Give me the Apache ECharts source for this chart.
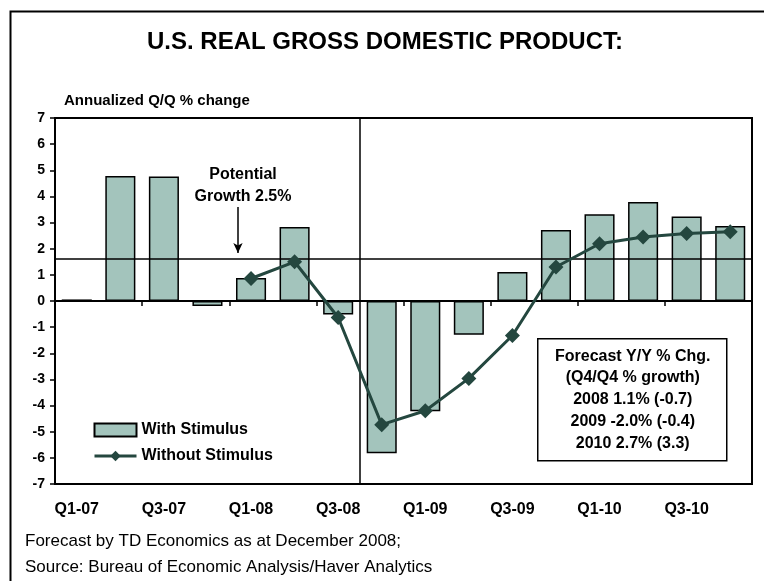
<!DOCTYPE html>
<html>
<head>
<meta charset="utf-8">
<script src="https://cdn.jsdelivr.net/npm/echarts@6/dist/echarts.min.js"></script>
<style>
  html, body { margin: 0; padding: 0; background: #fff; }
  #chart { width: 764px; height: 581px; }
</style>
</head>
<body>
<div id="chart"></div>
<script>
// quarters on the x axis
const quarters = ['Q1-07', 'Q2-07', 'Q3-07', 'Q4-07', 'Q1-08', 'Q2-08', 'Q3-08', 'Q4-08',
  'Q1-09', 'Q2-09', 'Q3-09', 'Q4-09', 'Q1-10', 'Q2-10', 'Q3-10', 'Q4-10']

// annualized Q/Q % change
const withStimulus = [0.06, 4.78, 4.76, -0.19, 0.88, 2.83, -0.52, -5.82,
  -4.22, -1.29, 1.11, 2.72, 3.32, 3.79, 3.23, 2.87]
const withoutStimulus = [null, null, null, null, 0.86, 1.5, -0.63, -4.73,
  -4.2, -2.96, -1.32, 1.3, 2.19, 2.45, 2.58, 2.65]

const potentialLine = 1.6      // horizontal reference line
const forecastStart = 7        // boundary between Q3-08 and Q4-08
const arrowX = 4.2
const arrowFrom = 3.6
const arrowTo = 1.84

const forecastLines = ['Forecast Y/Y % Chg.', '(Q4/Q4 % growth)', '2008 1.1% (-0.7)',
  '2009 -2.0% (-0.4)', '2010 2.7% (3.3)']
const footnotes = ['Forecast by TD Economics as at December 2008;',
  'Source: Bureau of Economic Analysis/Haver Analytics']

const font = 'Liberation Sans, Arial, sans-serif'
const barColor = '#a3c4bc'
const lineColor = '#24473f'

const chart = echarts.init(document.getElementById('chart'), null, { renderer: 'canvas' })

const option = {
  animation: false,
  backgroundColor: '#fff',
  textStyle: { fontFamily: font },
  grid: {
    left: 55, right: 12, top: 118, bottom: 97,
    show: true, borderColor: '#000', borderWidth: 2
  },
  legend: {
    orient: 'vertical',
    left: 93,
    top: 422,
    padding: 0,
    itemWidth: 42,
    itemHeight: 13,
    itemGap: 10,
    textStyle: { fontFamily: font, fontSize: 16, fontWeight: 'bold', color: '#000' },
    data: [
      { name: 'With Stimulus', icon: 'rect', itemStyle: { borderWidth: 2 } },
      { name: 'Without Stimulus', lineStyle: { width: 3 } }
    ]
  },
  xAxis: [
    {
      type: 'category',
      data: quarters,
      position: 'bottom',
      axisLine: { onZero: true, lineStyle: { color: '#000', width: 2 } },
      axisTick: { show: true, interval: 1, length: 5, lineStyle: { color: '#000', width: 1.5 } },
      axisLabel: { show: false },
      splitLine: { show: false }
    },
    {
      type: 'category',
      data: quarters,
      position: 'bottom',
      axisLine: { show: false, onZero: false },
      axisTick: { show: false },
      axisLabel: {
        interval: 1, margin: 18,
        fontFamily: font, fontSize: 16, fontWeight: 'bold', color: '#000'
      },
      splitLine: { show: false }
    },
    {
      type: 'value',
      min: 0,
      max: quarters.length,
      position: 'top',
      show: false
    }
  ],
  yAxis: {
    type: 'value',
    min: -7,
    max: 7,
    interval: 1,
    axisLine: { show: true, onZero: false, lineStyle: { color: '#000', width: 2 } },
    axisTick: { show: true, length: 5, lineStyle: { color: '#000', width: 1.5 } },
    axisLabel: { margin: 10, fontFamily: font, fontSize: 14, fontWeight: 'bold', color: '#000' },
    splitLine: { show: false }
  },
  series: [
    {
      name: 'With Stimulus',
      type: 'bar',
      xAxisIndex: 0,
      data: withStimulus,
      barCategoryGap: '31%',
      itemStyle: { color: barColor, borderColor: '#000', borderWidth: 1.5 }
    },
    {
      name: 'reference',
      type: 'line',
      xAxisIndex: 2,
      data: [],
      silent: true,
      markLine: {
        silent: true,
        symbol: 'none',
        label: { show: false },
        lineStyle: { color: '#000', width: 1.5, type: 'solid' },
        data: [
          { yAxis: potentialLine },
          { xAxis: forecastStart },
          [
            { coord: [arrowX, arrowFrom], symbol: 'none' },
            { coord: [arrowX, arrowTo], symbol: 'arrow', symbolSize: [7, 10] }
          ]
        ]
      }
    },
    {
      name: 'Without Stimulus',
      type: 'line',
      xAxisIndex: 0,
      data: withoutStimulus,
      symbol: 'diamond',
      symbolSize: 15,
      z: 5,
      lineStyle: { color: lineColor, width: 3 },
      itemStyle: { color: lineColor }
    }
  ],
  graphic: [
    {
      type: 'rect',
      left: 8, top: 9,
      shape: { width: 800, height: 600 },
      style: { fill: 'none', stroke: '#000', lineWidth: 2 },
      z: -1
    },
    {
      type: 'text',
      x: 385, y: 42,
      style: {
        text: 'U.S. REAL GROSS DOMESTIC PRODUCT:',
        font: 'bold 24px ' + font,
        fill: '#000', align: 'center', verticalAlign: 'middle'
      }
    },
    {
      type: 'text',
      x: 64, y: 101,
      style: {
        text: 'Annualized Q/Q % change',
        font: 'bold 15px ' + font,
        fill: '#000', align: 'left', verticalAlign: 'middle'
      }
    },
    {
      type: 'text',
      x: 243, y: 186,
      style: {
        text: 'Potential\nGrowth 2.5%',
        font: 'bold 16px ' + font,
        lineHeight: 22,
        fill: '#000', align: 'center', verticalAlign: 'middle'
      }
    },
    {
      type: 'group',
      left: 537, top: 338,
      children: [
        {
          type: 'rect',
          shape: { x: 0, y: 0, width: 189, height: 122 },
          style: { fill: '#fff', stroke: '#000', lineWidth: 1.5 }
        },
        {
          type: 'text',
          x: 95, y: 61,
          style: {
            text: forecastLines.join('\n'),
            font: 'bold 16px ' + font,
            lineHeight: 21.7,
            fill: '#000', align: 'center', verticalAlign: 'middle'
          }
        }
      ]
    },
    {
      type: 'text',
      x: 25, y: 554,
      style: {
        text: footnotes.join('\n'),
        font: '17px ' + font,
        lineHeight: 26,
        fill: '#000', align: 'left', verticalAlign: 'middle'
      }
    }
  ]
}

chart.setOption(option)
</script>
</body>
</html>
